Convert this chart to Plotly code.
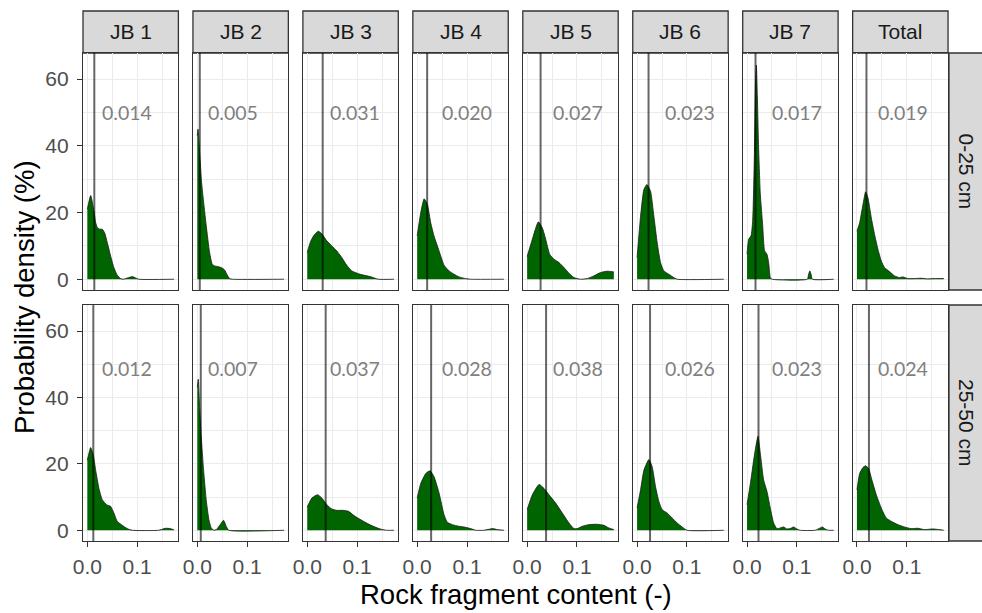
import plotly.graph_objects as go

# ---------------- data ----------------
columns = ["JB 1", "JB 2", "JB 3", "JB 4", "JB 5", "JB 6", "JB 7", "Total"]
depths = ["0-25 cm", "25-50 cm"]

medians_0_25 = [0.014, 0.005, 0.031, 0.020, 0.027, 0.023, 0.017, 0.019]
medians_25_50 = [0.012, 0.007, 0.037, 0.028, 0.038, 0.026, 0.023, 0.024]

# density curves (x: rock fragment content, y: probability density %)
jb1_0_25_x = [0, 0.0067, 0.0133, 0.0167, 0.020, 0.025, 0.030, 0.035, 0.040, 0.0467, 0.0533, 0.060, 0.0667, 0.072, 0.0833, 0.090, 0.0967, 0.1033, 0.174]
jb1_0_25_y = [21, 25.1, 20.4, 17, 15.5, 15, 15, 13.8, 11, 7, 3.5, 1.2, 0.2, 0, 0.5, 0.8, 0.4, 0, 0]
jb2_0_25_x = [0, 0.0015, 0.0047, 0.0087, 0.0113, 0.018, 0.0247, 0.030, 0.0347, 0.0413, 0.048, 0.0547, 0.0593, 0.0647, 0.0713, 0.174]
jb2_0_25_y = [43, 45, 38, 29, 25, 16, 8, 4.5, 4, 3.8, 3.5, 2.8, 1.5, 0.2, 0, 0]
jb3_0_25_x = [0, 0.006, 0.0127, 0.022, 0.0293, 0.0393, 0.0493, 0.0593, 0.0693, 0.0793, 0.0893, 0.106, 0.126, 0.1427, 0.174]
jb3_0_25_y = [8, 11, 13, 14.4, 13.6, 11.5, 10, 8.5, 6.5, 4.2, 2.5, 1.5, 0.8, 0, 0]
jb4_0_25_x = [0, 0.0072, 0.0139, 0.0205, 0.0272, 0.0339, 0.0405, 0.0472, 0.0539, 0.0639, 0.0739, 0.0839, 0.0972, 0.107, 0.174]
jb4_0_25_y = [13, 20, 24.1, 22.4, 16.9, 12.9, 10, 7, 4.2, 2.5, 1.5, 0.7, 0.2, 0, 0]
jb5_0_25_x = [0, 0.0105, 0.0225, 0.0305, 0.0372, 0.0452, 0.0539, 0.0639, 0.0739, 0.0839, 0.0939, 0.1072, 0.1205, 0.1339, 0.1472, 0.1605, 0.174]
jb5_0_25_y = [6.8, 12, 17.2, 15.4, 12, 7.5, 6, 5, 3.5, 1.8, 0.5, 0, 0.2, 1, 2, 2.4, 2.2]
jb6_0_25_x = [0, 0.007, 0.0137, 0.0197, 0.027, 0.0337, 0.0403, 0.047, 0.0537, 0.0637, 0.0737, 0.0803, 0.174]
jb6_0_25_y = [6.5, 18.9, 26.9, 28.4, 26.4, 18.9, 11, 5, 2.5, 1.5, 0.5, 0, 0]
jb7_0_25_x = [0, 0.0033, 0.008, 0.0113, 0.0147, 0.0167, 0.0187, 0.0207, 0.0233, 0.0267, 0.0313, 0.0353, 0.040, 0.0433, 0.0467, 0.050, 0.121, 0.1235, 0.126, 0.1285, 0.131, 0.174]
jb7_0_25_y = [7.5, 12, 13, 17.4, 37, 57, 64.2, 55, 39, 25.4, 16.4, 8.5, 7.5, 5, 0.5, 0, 0, 1.5, 2.5, 1.5, 0, 0]
tot_0_25_x = [0, 0.0053, 0.012, 0.0173, 0.022, 0.0287, 0.0353, 0.042, 0.0487, 0.0553, 0.0653, 0.0753, 0.0853, 0.092, 0.102, 0.1153, 0.1287, 0.142, 0.1553, 0.174]
tot_0_25_y = [14.4, 16.9, 22.4, 26.2, 24.4, 18.4, 13.4, 9, 5.5, 3.5, 2.3, 1, 0.5, 0.7, 0.2, 0.2, 0.3, 0.1, 0.2, 0.2]

jb1_25_50_x = [0, 0.0067, 0.012, 0.0167, 0.0233, 0.030, 0.0387, 0.0467, 0.0533, 0.060, 0.070, 0.080, 0.090, 0.1433, 0.1567, 0.1667, 0.174]
jb1_25_50_y = [21.1, 24.9, 22.6, 18.1, 12.6, 9.2, 7.7, 7.2, 5.2, 2.7, 1.5, 0.5, 0, 0, 0.6, 0.5, 0.1]
jb2_25_50_x = [0, 0.002, 0.0047, 0.008, 0.0127, 0.018, 0.0233, 0.028, 0.0333, 0.038, 0.046, 0.0527, 0.058, 0.0633, 0.174]
jb2_25_50_y = [43, 45.5, 37, 28, 18, 9, 3.2, 0.7, 0, 0.2, 1.7, 3, 1.2, 0, 0]
jb3_25_50_x = [0, 0.0093, 0.0207, 0.0293, 0.0393, 0.0493, 0.0593, 0.0727, 0.0827, 0.096, 0.1127, 0.1293, 0.146, 0.1593, 0.174]
jb3_25_50_y = [7, 9.7, 10.7, 9.7, 7.7, 6.4, 6, 6, 5.7, 4.2, 2.7, 1.4, 0.4, 0, 0]
jb4_25_50_x = [0, 0.0072, 0.0172, 0.0259, 0.0339, 0.0439, 0.0539, 0.0605, 0.0705, 0.0839, 0.0972, 0.1072, 0.1172, 0.1339, 0.1519, 0.1605, 0.174]
jb4_25_50_y = [9.7, 14.1, 17.1, 17.9, 16.1, 11.2, 4.7, 2.4, 1.7, 1.2, 0.9, 0.5, 0, 0, 0.5, 0.2, 0]
jb5_25_50_x = [0, 0.0105, 0.0239, 0.0339, 0.0439, 0.0572, 0.0705, 0.0839, 0.0939, 0.1005, 0.1105, 0.1239, 0.1405, 0.1539, 0.1639, 0.174]
jb5_25_50_y = [6.2, 10.7, 13.8, 12.6, 10.7, 8.2, 5.2, 2.2, 0.5, 0.5, 1.2, 1.7, 1.8, 1.5, 0.7, 0.2]
jb6_25_50_x = [0, 0.007, 0.0137, 0.0237, 0.0303, 0.037, 0.0437, 0.0503, 0.0603, 0.0703, 0.0803, 0.0903, 0.1003, 0.174]
jb6_25_50_y = [6.7, 12.2, 18.1, 21.3, 19.1, 13.1, 8.7, 6.2, 5.2, 3.7, 2.2, 1, 0, 0]
jb7_25_50_x = [0, 0.0067, 0.0133, 0.018, 0.022, 0.0267, 0.0333, 0.040, 0.0467, 0.0533, 0.060, 0.0667, 0.0733, 0.080, 0.0867, 0.0933, 0.100, 0.1067, 0.1367, 0.1467, 0.1513, 0.1567, 0.1633, 0.174]
jb7_25_50_y = [7.7, 14.1, 21.1, 25.6, 28.3, 23.1, 15.1, 11.7, 6.7, 2.2, 0.5, 0.7, 1, 0.4, 0.5, 1, 0.4, 0, 0, 0.7, 1, 0.4, 0, 0]
tot_25_50_x = [0, 0.0053, 0.012, 0.0173, 0.0233, 0.030, 0.0387, 0.0487, 0.0587, 0.0687, 0.082, 0.0953, 0.1087, 0.122, 0.1353, 0.152, 0.1653, 0.174]
tot_25_50_y = [12.2, 17.1, 18.9, 19.4, 18.6, 15.1, 10.7, 6.7, 3.7, 2.7, 1.7, 1, 0.5, 0.6, 0.2, 0.4, 0.2, 0]

curves = [
    [(jb1_0_25_x, jb1_0_25_y), (jb2_0_25_x, jb2_0_25_y), (jb3_0_25_x, jb3_0_25_y), (jb4_0_25_x, jb4_0_25_y),
     (jb5_0_25_x, jb5_0_25_y), (jb6_0_25_x, jb6_0_25_y), (jb7_0_25_x, jb7_0_25_y), (tot_0_25_x, tot_0_25_y)],
    [(jb1_25_50_x, jb1_25_50_y), (jb2_25_50_x, jb2_25_50_y), (jb3_25_50_x, jb3_25_50_y), (jb4_25_50_x, jb4_25_50_y),
     (jb5_25_50_x, jb5_25_50_y), (jb6_25_50_x, jb6_25_50_y), (jb7_25_50_x, jb7_25_50_y), (tot_25_50_x, tot_25_50_y)],
]
medians = [medians_0_25, medians_25_50]

x_ticks = [0, 0.1]
x_ticklabels = ["0.0", "0.1"]
y_ticks = [0, 20, 40, 60]

# ---------------- layout constants ----------------
W, H = 982, 613
label_x = [0.079, 0.071, 0.096, 0.100, 0.102, 0.107, 0.100, 0.092]
label_y = [50, 48.6]
XR = [-0.0087, 0.1827]
YR = [-3.23, 67.83]
col_left = [83 + i * 109.95 for i in range(8)]
panel_w = 95.4
rows_px = [(53, 290), (305, 541)]
strip_top = 11
strip_right_x0 = 949

def px(x):
    return x / W

def py(y):
    return 1 - y / H

TICKFONT = dict(family="Liberation Sans, Arial, sans-serif", size=21, color="#4D4D4D")
BORDER = "#333333"
GRID = "#EBEBEB"

fig = go.Figure()
shapes = []
annotations = []

def ann(**kw):
    d = dict(showarrow=False, xanchor="center", yanchor="middle")
    d.update(kw)
    annotations.append(d)

for r in range(2):
    for c in range(8):
        idx = r * 8 + c + 1
        xa = "x" if idx == 1 else f"x{idx}"
        ya = "y" if idx == 1 else f"y{idx}"
        xs, ys = curves[r][c]
        fig.add_trace(go.Scatter(
            x=xs, y=ys, xaxis=xa, yaxis=ya, mode="lines",
            line=dict(color="#1a1a1a", width=0.8, shape="spline", smoothing=0.5),
            fill="tozeroy", fillcolor="#006400", showlegend=False, hoverinfo="skip"))
        top, bot = rows_px[r]
        xkey = "xaxis" if idx == 1 else f"xaxis{idx}"
        ykey = "yaxis" if idx == 1 else f"yaxis{idx}"
        fig.layout[xkey] = dict(
            domain=[px(col_left[c]), px(col_left[c] + panel_w)], anchor=ya, range=XR,
            tickvals=x_ticks, ticktext=x_ticklabels, showticklabels=(r == 1),
            ticks="outside" if r == 1 else "", ticklen=5, tickwidth=1.2, tickcolor=BORDER,
            tickfont=TICKFONT, ticklabelstandoff=2, showgrid=True, gridcolor=GRID, gridwidth=1.4,
            minor=dict(dtick=0.05, tick0=0, showgrid=True, gridcolor=GRID, gridwidth=0.8),
            zeroline=False, showline=True, mirror=True, linecolor=BORDER, linewidth=1.3,
            automargin=False, fixedrange=True)
        fig.layout[ykey] = dict(
            domain=[py(bot), py(top)], anchor=xa, range=YR,
            tickvals=y_ticks, showticklabels=(c == 0),
            ticks="outside" if c == 0 else "", ticklen=5, tickwidth=1.2, tickcolor=BORDER,
            tickfont=TICKFONT, ticklabelstandoff=4, showgrid=True, gridcolor=GRID, gridwidth=1.4,
            minor=dict(dtick=10, tick0=0, showgrid=True, gridcolor=GRID, gridwidth=0.8),
            zeroline=False, showline=True, mirror=True, linecolor=BORDER, linewidth=1.3,
            automargin=False, fixedrange=True)
        # median line
        shapes.append(dict(type="line", xref=xa, yref=f"{ya} domain",
                           x0=medians[r][c], x1=medians[r][c], y0=0, y1=1,
                           line=dict(color="rgba(0,0,0,0.6)", width=2), layer="above"))
        # median label
        ann(xref=xa, yref=ya, x=label_x[c], y=label_y[r], text=f"{medians[r][c]:.3f}",
            font=dict(family="Lato, Open Sans, sans-serif", size=19.5, color="#7F7F7F"))

# top strips
for c in range(8):
    shapes.append(dict(type="rect", xref="paper", yref="paper",
                       x0=px(col_left[c]), x1=px(col_left[c] + panel_w),
                       y0=py(rows_px[0][0]), y1=py(strip_top),
                       fillcolor="#D9D9D9", line=dict(color=BORDER, width=1.3), layer="below"))
    ann(xref="paper", yref="paper", x=px(col_left[c] + panel_w / 2), y=py((strip_top + rows_px[0][0]) / 2),
        text=columns[c], font=dict(family="Liberation Sans, Arial, sans-serif", size=21, color="#1A1A1A"))
# right strips
for r in range(2):
    top, bot = rows_px[r]
    shapes.append(dict(type="rect", xref="paper", yref="paper",
                       x0=px(strip_right_x0), x1=px(strip_right_x0 + 45),
                       y0=py(bot), y1=py(top),
                       fillcolor="#D9D9D9", line=dict(color=BORDER, width=1.3), layer="below"))
    ann(xref="paper", yref="paper", x=px(966), y=py((top + bot) / 2), text=depths[r], textangle=90,
        font=dict(family="Liberation Sans, Arial, sans-serif", size=21, color="#1A1A1A"))

# axis titles
ann(xref="paper", yref="paper", x=px((col_left[0] + col_left[7] + panel_w) / 2), y=py(594),
    text="Rock fragment content (-)",
    font=dict(family="Liberation Sans, Arial, sans-serif", size=27.5, color="#000000"))
ann(xref="paper", yref="paper", x=px(24), y=py((rows_px[0][0] + rows_px[1][1]) / 2),
    text="Probability density (%)", textangle=-90,
    font=dict(family="Liberation Sans, Arial, sans-serif", size=27.5, color="#000000"))

fig.update_layout(
    width=W, height=H, margin=dict(l=0, r=0, t=0, b=0, autoexpand=False),
    paper_bgcolor="white", plot_bgcolor="white",
    shapes=shapes, annotations=annotations, showlegend=False,
)

fig.write_html("out.html", config={"displayModeBar": False},
               post_script="document.body.style.margin='0';document.body.style.overflow='hidden';")
